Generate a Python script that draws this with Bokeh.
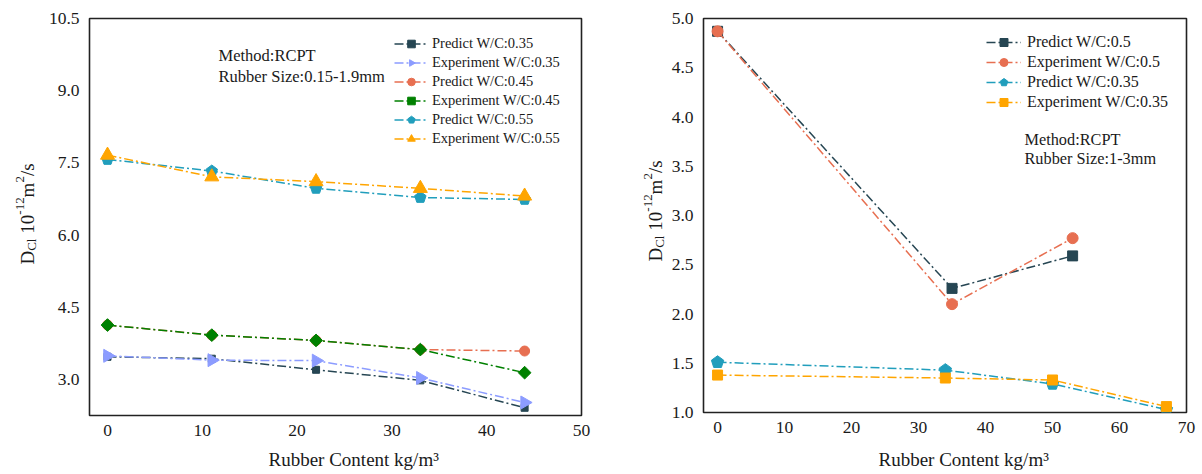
import numpy as np
from bokeh.plotting import figure
from bokeh.models import Label, Legend, LegendItem, FixedTicker, NumeralTickFormatter, Range1d
from bokeh.layouts import row, column
from bokeh.embed import file_html
from bokeh.resources import INLINE

# ---------------- data: left panel (Rubber Size 0.15-1.9mm) ----------------
x_left = [0, 11, 22, 33, 44]
pred_035 = [3.47, 3.43, 3.20, 2.98, 2.41]
exp_035 = [3.49, 3.40, 3.39, 3.03, 2.52]
pred_045 = [4.13, 3.92, 3.81, 3.62, 3.59]
exp_045 = [4.13, 3.92, 3.81, 3.62, 3.14]
pred_055 = [7.57, 7.33, 6.97, 6.78, 6.74]
exp_055 = [7.66, 7.21, 7.11, 6.97, 6.81]
left_names = ["Predict W/C:0.35", "Experiment W/C:0.35", "Predict W/C:0.45",
              "Experiment W/C:0.45", "Predict W/C:0.55", "Experiment W/C:0.55"]
left_xticks = [0, 10, 20, 30, 40, 50]
left_yticks = [3.0, 4.5, 6.0, 7.5, 9.0, 10.5]

# ---------------- data: right panel (Rubber Size 1-3mm) ----------------
x_r05 = [0, 35, 53]
pred_05 = [4.87, 2.26, 2.59]
exp_05 = [4.87, 2.10, 2.77]
x_r035 = [0, 34, 50, 67]
pred_035r = [1.51, 1.43, 1.29, 1.03]
exp_035r = [1.38, 1.35, 1.33, 1.06]
right_names = ["Predict W/C:0.5", "Experiment W/C:0.5", "Predict W/C:0.35", "Experiment W/C:0.35"]
right_xticks = [0, 10, 20, 30, 40, 50, 60, 70]
right_yticks = [1.0, 1.5, 2.0, 2.5, 3.0, 3.5, 4.0, 4.5, 5.0]

x_title = "Rubber Content kg/m\u00b3"

C_DARK = "#264653"
C_PERI = "#8c9cff"
C_SALM = "#e76f51"
C_GREEN = "#008000"
C_TEAL = "#219ebc"
C_ORNG = "#ffa500"
DASH = [9, 3, 2, 3]
FONT = "Liberation Serif"
TXT = "#1a1a1a"

TOP_H = 448      # height of the row holding the plots
BOT_H = 474 - TOP_H


def make_fig(xr, yr, fw, fh, bl, br, bt, bb, xt, yt, yfmt):
    p = figure(width=bl + fw + br, height=bt + fh + bb, frame_width=fw, frame_height=fh,
               x_range=Range1d(*xr), y_range=Range1d(*yr),
               output_backend="svg", toolbar_location=None,
               min_border_left=bl, min_border_right=br, min_border_top=bt, min_border_bottom=bb)
    p.grid.visible = False
    p.outline_line_color = "#222222"
    p.outline_line_width = 1.6
    p.outline_line_alpha = 1.0
    p.background_fill_color = "white"
    p.border_fill_color = "white"
    for ax in (p.xaxis[0], p.yaxis[0]):
        ax.axis_line_color = None
        ax.major_tick_line_color = None
        ax.minor_tick_line_color = None
        ax.major_tick_out = 0
        ax.major_tick_in = 0
        ax.minor_tick_out = 0
        ax.minor_tick_in = 0
        ax.major_label_text_font = FONT
        ax.major_label_text_font_size = "17.5px"
        ax.major_label_text_color = TXT
    p.xaxis[0].ticker = FixedTicker(ticks=xt)
    p.yaxis[0].ticker = FixedTicker(ticks=yt)
    p.yaxis[0].formatter = NumeralTickFormatter(format=yfmt)
    p.xaxis[0].major_label_standoff = 9
    p.yaxis[0].major_label_standoff = 10
    return p


def text_fig(w, h):
    """A blank figure whose frame fills it, with pixel-like ranges (y measured from top)."""
    f = figure(width=w, height=h, frame_width=w, frame_height=h,
               x_range=Range1d(0, w), y_range=Range1d(h, 0),
               x_axis_type=None, y_axis_type=None,
               output_backend="svg", toolbar_location=None,
               min_border=0, min_border_left=0, min_border_right=0,
               min_border_top=0, min_border_bottom=0)
    f.grid.visible = False
    f.outline_line_color = None
    f.background_fill_color = "white"
    f.border_fill_color = "white"
    return f


def converter(fx0, fx1, fy0, fy1, xr, yr):
    def conv(px, py):
        x = xr[0] + (px - fx0) / (fx1 - fx0) * (xr[1] - xr[0])
        y = yr[1] - (py - fy0) / (fy1 - fy0) * (yr[1] - yr[0])
        return x, y
    return conv


def polygon_marks(p, x, y, color, r, n, ang):
    if hasattr(p, "ngon"):
        return p.ngon(x=x, y=y, radius=r, radius_units="screen", n=n, angle=ang,
                      fill_color=color, line_color=color)
    mk = "hex" if n == 5 else "triangle"
    return p.scatter(x=x, y=y, marker=mk, size=2 * r, angle=ang,
                     fill_color=color, line_color=color)


def add_ylabel(f, xbase, ystart):
    # pieces: text, font size, baseline shift (px, + = lowered), advance (px)
    pieces = [("D", 19, 0, 13.7), ("Cl", 13, 4, 12.3 + 4.8), ("10", 19, 0, 19.0),
              ("-12", 13, -7.5, 17.3), ("m", 19, 0, 14.8), ("2", 13, -7.5, 6.5), ("/s", 19, 0, 12.7)]
    ypos = ystart
    for t, fs, sh, adv in pieces:
        f.add_layout(Label(x=xbase + sh, y=ypos, text=t, angle=np.pi / 2, text_align="left",
                           text_baseline="alphabetic", text_font=FONT,
                           text_font_size=f"{fs}px", text_color=TXT))
        ypos -= adv


def add_text(p, conv, px, py, t, fs):
    x, y = conv(px, py)
    p.add_layout(Label(x=x, y=y, text=t, text_align="left", text_baseline="alphabetic",
                       text_font=FONT, text_font_size=fs, text_color=TXT))


# ================= left y-label strip =================
yl1 = text_fig(42, TOP_H)
add_ylabel(yl1, 26.5, 246)

# ================= left figure =================
LXR = (-1.9, 50.0)
LYR = (2.25, 10.5)
p1 = make_fig(LXR, LYR, 492, 397, 47, 19, 15, TOP_H - 412, left_xticks, left_yticks, "0.0")
c1 = converter(89, 581, 15, 412, LXR, LYR)

items = []
series = [
    (pred_035, C_DARK, dict(marker="square", size=7)),
    (exp_035, C_PERI, ("poly", 3, -np.pi / 2, 7.5)),
    (pred_045, C_SALM, dict(marker="circle", size=10)),
    (exp_045, C_GREEN, dict(marker="square", size=9, angle=np.pi / 4)),
    (pred_055, C_TEAL, ("poly", 5, 0.0, 6)),
    (exp_055, C_ORNG, dict(marker="triangle", size=14)),
]
for name, (ys, col, mk) in zip(left_names, series):
    lr = p1.line(x_left, ys, line_color=col, line_width=1.5, line_dash=DASH)
    if isinstance(mk, tuple):
        mr = polygon_marks(p1, x_left, ys, col, mk[3], mk[1], mk[2])
    else:
        mr = p1.scatter(x_left, ys, fill_color=col, line_color=col, **mk)
    items.append(LegendItem(label=name, renderers=[lr, mr]))

leg1 = Legend(items=items, location=(305, 267), glyph_width=34, glyph_height=19,
              label_height=19, spacing=0, padding=0, margin=0, label_standoff=4,
              label_text_font=FONT, label_text_font_size="14.5px", label_text_color=TXT,
              background_fill_alpha=0, border_line_alpha=0)
p1.add_layout(leg1)

add_text(p1, c1, 218, 51.7, "Method:RCPT", "16.5px")
add_text(p1, c1, 218, 72.7, "Rubber Size:0.15-1.9mm", "16.5px")

# ================= right y-label strip =================
yl2 = text_fig(68, TOP_H)
add_ylabel(yl2, 655 - 600, 243)

# ================= right figure =================
RXR = (-2.1, 70.0)
RYR = (1.0, 5.0)
p2 = make_fig(RXR, RYR, 483, 394, 34, 17, 18, TOP_H - 412, right_xticks, right_yticks, "0.0")
c2 = converter(702, 1185, 18, 412, RXR, RYR)

items2 = []
series2 = [
    (x_r05, pred_05, C_DARK, dict(marker="square", size=10)),
    (x_r05, exp_05, C_SALM, dict(marker="circle", size=11)),
    (x_r035, pred_035r, C_TEAL, ("poly", 5, 0.0, 6.5)),
    (x_r035, exp_035r, C_ORNG, dict(marker="square", size=10)),
]
for name, (xs, ys, col, mk) in zip(right_names, series2):
    lr = p2.line(xs, ys, line_color=col, line_width=1.5, line_dash=DASH)
    if isinstance(mk, tuple):
        mr = polygon_marks(p2, xs, ys, col, mk[3], mk[1], mk[2])
    else:
        mr = p2.scatter(xs, ys, fill_color=col, line_color=col, **mk)
    items2.append(LegendItem(label=name, renderers=[lr, mr]))

leg2 = Legend(items=items2, location=(283, 300), glyph_width=35, glyph_height=20,
              label_height=20, spacing=0, padding=0, margin=0, label_standoff=6,
              label_text_font=FONT, label_text_font_size="16px", label_text_color=TXT,
              background_fill_alpha=0, border_line_alpha=0)
p2.add_layout(leg2)

add_text(p2, c2, 1023, 138.7, "Method:RCPT", "16.3px")
add_text(p2, c2, 1023, 158.3, "Rubber Size:1-3mm", "16.3px")

# ================= bottom strip with the x titles =================
xb = text_fig(1202, BOT_H)
for px in (268, 878):
    xb.add_layout(Label(x=px, y=459 - TOP_H, text=x_title, text_align="left",
                        text_baseline="alphabetic", text_font=FONT,
                        text_font_size="19px", text_color=TXT))

layout = column(row(yl1, p1, yl2, p2, spacing=0), xb, spacing=0)
open("out.html", "w").write(file_html(layout, INLINE))
